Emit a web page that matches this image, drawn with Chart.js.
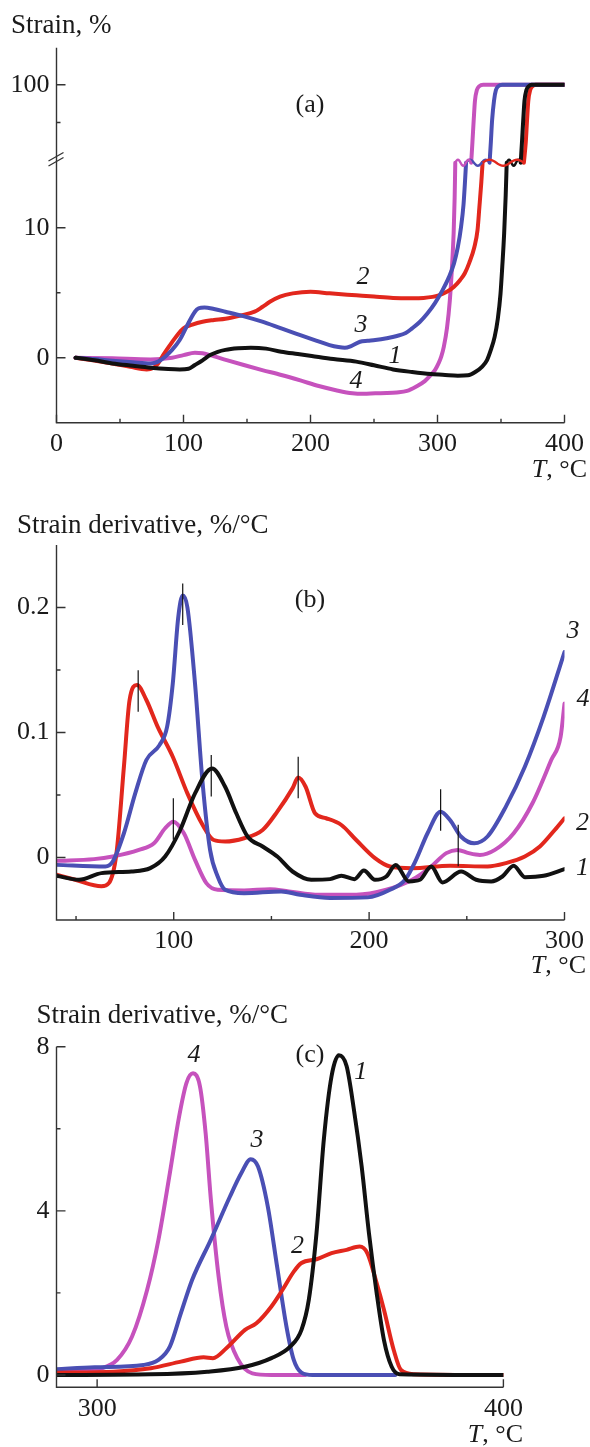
<!DOCTYPE html>
<html>
<head>
<meta charset="utf-8">
<script src="https://cdn.jsdelivr.net/npm/chart.js@4.4.1/dist/chart.umd.min.js"></script>
<style>
  body { margin: 0; background: #fff; width: 590px; height: 1447px; position: relative; overflow: hidden; }
  canvas { position: absolute; left: 0; }
</style>
</head>
<body>
<canvas id="chartA" width="590" height="485" style="top:0"></canvas>
<canvas id="chartB" width="590" height="505" style="top:485px"></canvas>
<canvas id="chartC" width="590" height="457" style="top:990px"></canvas>
<script>
// ---- panel (a): strain, % (upper part after the axis break is 15..100 %)
const a1T = [15, 30, 44, 60, 74, 88, 97, 104, 109, 115, 121, 127, 133, 143, 153, 165, 177, 190, 201, 218, 236, 250, 265, 280, 295, 306, 316, 324, 330, 335, 339, 342, 345, 347.5, 349.6, 351, 352.5, 353.7, 354.5, 360, 365.5, 366.5, 367.5, 368.5, 370, 372, 374, 400];
const a1V = [0, -0.2, -0.44, -0.62, -0.77, -0.87, -0.9, -0.85, -0.56, -0.2, 0.2, 0.45, 0.6, 0.72, 0.77, 0.7, 0.46, 0.28, 0.13, -0.1, -0.3, -0.58, -0.9, -1.1, -1.26, -1.33, -1.38, -1.35, -1.08, -0.7, -0.18, 0.6, 1.6, 3.0, 4.9, 7.0, 9.6, 12.5, 15, null, 15, 35, 60, 82, 94, 98.5, 100, 100];
const a2T = [15, 30, 44, 58, 71, 76, 80, 84, 88.5, 94, 100, 107, 115, 124, 133, 145, 156, 162, 168, 176, 186, 200, 215, 236, 250, 265, 280, 289, 296, 301, 307, 313, 318, 321.5, 325, 329, 331.5, 333, 334.5, 335.5, 352, 368, 369.5, 370.5, 371.5, 373, 375, 377, 400];
const a2V = [0, -0.22, -0.44, -0.7, -0.9, -0.8, -0.44, 0.2, 0.85, 1.6, 2.26, 2.55, 2.77, 2.9, 3.0, 3.25, 3.54, 3.9, 4.3, 4.7, 4.95, 5.08, 4.95, 4.8, 4.7, 4.6, 4.58, 4.6, 4.68, 4.8, 5.05, 5.46, 6.0, 6.5, 7.3, 8.5, 9.8, 11.6, 13.5, 15, null, 15, 35, 60, 82, 94, 98.5, 100, 100];
const a3T = [15, 30, 44, 60, 74, 80, 85.5, 91, 97, 103, 109, 112, 116.5, 124, 133, 147, 162, 177, 192, 205, 215, 222, 227, 232, 239, 245, 251, 260, 268, 275, 280, 286, 292, 298, 304, 309, 313, 316, 318.6, 320.5, 321.5, 322.5, 332, 341, 342, 343, 344.5, 346, 348, 351, 400];
const a3V = [0, -0.1, -0.23, -0.35, -0.44, -0.3, 0.08, 0.6, 1.36, 2.5, 3.54, 3.8, 3.87, 3.75, 3.54, 3.2, 2.77, 2.25, 1.74, 1.3, 0.97, 0.82, 0.77, 0.9, 1.23, 1.3, 1.36, 1.5, 1.67, 1.9, 2.26, 2.75, 3.4, 4.2, 5.2, 6.2, 7.26, 8.5, 10.1, 11.8, 13.3, 15, null, 15, 35, 60, 82, 94, 98.5, 100, 100];
const a4T = [15, 44, 74, 91, 100, 109, 115, 121, 134, 147.5, 162, 177, 192, 206.5, 220, 233, 242, 251, 260, 268, 276, 283, 290, 295, 298, 301, 303, 305, 307.5, 309.7, 311.3, 312.7, 313.5, 314, 320, 326.5, 327.5, 328.5, 329.5, 331, 333, 336, 400];
const a4V = [0, -0.05, -0.13, 0, 0.2, 0.38, 0.35, 0.2, -0.18, -0.56, -0.95, -1.33, -1.75, -2.18, -2.5, -2.74, -2.78, -2.74, -2.72, -2.67, -2.55, -2.23, -1.8, -1.3, -0.95, -0.4, 0.1, 0.85, 2.3, 4.4, 6.8, 9.56, 12.3, 15, null, 15, 35, 60, 82, 94, 98.5, 100, 100];
const aTicksX = [0, 100, 200, 300, 400];
const aTicksY = [0, 10, 100];

// ---- panel (b): strain derivative, %/°C, 40..300 °C
const b1T = [40, 51.5, 63, 78.4, 88, 95.6, 103.3, 110.9, 119.6, 126.3, 132, 137.8, 145.5, 153, 160.8, 170.4, 180, 185.8, 192.5, 197.3, 203, 208.8, 213.6, 220.3, 226, 231.8, 237.5, 247.1, 254.8, 262.5, 268.2, 274, 279.7, 289.3, 300];
const b1V = [-0.0146, -0.0178, -0.0125, -0.0112, -0.0085, 0.0008, 0.022, 0.0513, 0.0713, 0.0566, 0.0354, 0.0168, 0.0088, 0.0008, -0.0112, -0.0178, -0.0173, -0.0146, -0.0173, -0.0104, -0.0178, -0.0152, -0.0059, -0.0191, -0.0178, -0.0072, -0.0199, -0.0112, -0.0178, -0.0191, -0.0152, -0.0066, -0.0157, -0.0146, -0.0093];
const b2T = [40, 49.6, 63, 66.8, 70.7, 74.5, 77.4, 81.2, 86, 91.8, 99.5, 107, 114.8, 120.5, 126.3, 136, 145.5, 153, 160.8, 163.7, 167.5, 172.3, 178, 185.8, 193.4, 203, 210.7, 222, 241.4, 260.6, 270, 279.7, 287.4, 295, 300];
const b2V = [-0.0138, -0.0178, -0.023, -0.0205, 0.0035, 0.0726, 0.126, 0.138, 0.126, 0.1045, 0.0806, 0.0513, 0.026, 0.014, 0.0128, 0.0154, 0.022, 0.0367, 0.0553, 0.064, 0.0566, 0.0354, 0.0314, 0.026, 0.014, -0.0005, -0.0072, -0.0085, -0.0066, -0.0072, -0.0045, 0.0008, 0.0088, 0.022, 0.0314];
const b3T = [40, 65, 68.8, 74.5, 80.3, 86, 92.7, 96.6, 99.5, 102.3, 104.6, 107, 110.9, 114.8, 118.6, 122.5, 126.3, 136, 155, 164.7, 180, 199.2, 210.7, 218.4, 224, 229.9, 236.6, 241.4, 247, 253.8, 260.6, 270, 279.7, 289.3, 300];
const b3V = [-0.0059, -0.0072, -0.0032, 0.0194, 0.0513, 0.078, 0.0899, 0.1045, 0.139, 0.192, 0.2096, 0.2, 0.139, 0.0593, 0.0061, -0.0152, -0.0258, -0.0285, -0.0271, -0.0298, -0.0324, -0.0319, -0.0258, -0.0178, -0.0019, 0.0194, 0.0367, 0.03, 0.0168, 0.0114, 0.0168, 0.0407, 0.0726, 0.1125, 0.1644];
const b4T = [40, 59.2, 68.8, 82.2, 89.9, 95.6, 99.8, 105.2, 110.9, 116.7, 122.5, 136, 149.3, 158.9, 174.3, 193.4, 208.8, 222, 231.8, 239.5, 245.2, 251, 256.7, 264.4, 274, 283.6, 293.2, 298, 300];
const b4V = [-0.0027, -0.0013, 0.0008, 0.0061, 0.0114, 0.0234, 0.0287, 0.0194, -0.0019, -0.0205, -0.0258, -0.0263, -0.0253, -0.0271, -0.0298, -0.0298, -0.0258, -0.0178, -0.0072, 0.0035, 0.0061, 0.0035, 0.0021, 0.0061, 0.0194, 0.0434, 0.078, 0.0965, 0.1231];
// peak marks (thin vertical bars) in panel (b)
const bPeakT = [81.8, 104.6, 99.8, 119.2, 163.7, 236.6, 245.6];
const bPeakV = [0.1332, 0.2027, 0.0309, 0.0654, 0.0641, 0.038, 0.0096];
const bTicksX = [100, 200, 300];
const bTicksY = [0, 0.1, 0.2];

// ---- panel (c): strain derivative, %/°C, 290..400 °C
const c1T = [290, 313.2, 327.1, 336.4, 342.9, 347.5, 350.3, 352.1, 354, 355.8, 357.7, 359.5, 361.4, 363.2, 365.1, 366.9, 368.8, 370.6, 372.5, 374.4, 400];
const c1V = [0, 0.016, 0.08, 0.2, 0.41, 0.69, 1.1, 1.83, 3.46, 5.74, 7.28, 7.79, 7.53, 6.47, 5.09, 3.46, 2.0, 0.85, 0.2, 0.02, 0];
const c2T = [290, 304, 313.2, 320.6, 326.2, 328.5, 331.8, 336.4, 339.2, 342.9, 345.6, 348.4, 350.3, 354, 357.7, 361.4, 364.6, 366.5, 368.8, 370.6, 373, 374.8, 378, 400];
const c2V = [0.057, 0.08, 0.163, 0.325, 0.43, 0.41, 0.65, 1.1, 1.26, 1.67, 2.07, 2.52, 2.73, 2.82, 2.97, 3.05, 3.13, 2.97, 2.24, 1.59, 0.61, 0.12, 0.02, 0];
const c3T = [290, 299.4, 311.4, 315.1, 317.9, 320.6, 323.4, 328, 332.7, 335.5, 337.8, 339.6, 342, 344.3, 346.6, 348.4, 350.3, 353, 373.4];
const c3V = [0.138, 0.187, 0.244, 0.366, 0.69, 1.5, 2.32, 3.3, 4.35, 4.92, 5.26, 5.08, 4.11, 2.64, 1.18, 0.366, 0.057, 0, 0];
const c4T = [290, 296.6, 301.2, 304.9, 308.6, 312.3, 315.1, 317.9, 320.2, 322, 323.6, 325.3, 326.7, 328, 329.9, 331.8, 334.5, 338.2, 342.9, 351.2];
const c4V = [0.106, 0.106, 0.163, 0.366, 0.936, 2.07, 3.3, 4.92, 6.31, 7.12, 7.35, 7.04, 5.9, 4.27, 2.4, 1.18, 0.41, 0.04, 0, 0];
const cTicksX = [300, 400];
const cTicksY = [0, 4, 8];

const COLORS = { 1: '#111111', 2: '#e2271d', 3: '#4a4fb4', 4: '#c652bd' };
const SERIF = '"Liberation Serif", "Times New Roman", serif';
const AXIS = '#333333';

// broken axis of panel (a): 0..15 linear, then 15..100 squeezed above the break
const BREAK_V = 15, BREAK_D = 15.2, TOP_D = 21;
function strainToAxis(v) {
  if (v === null) return null;
  return v <= BREAK_V ? v : BREAK_D + (v - BREAK_V) * (TOP_D - BREAK_D) / (100 - BREAK_V);
}

function pts(T, V, f) {
  return T.map((t, i) => ({ x: t, y: f ? f(V[i]) : V[i] }));
}

function line(n, data) {
  return {
    label: String(n), data,
    borderColor: COLORS[n], borderWidth: 4,
    pointRadius: 0, spanGaps: false,
    cubicInterpolationMode: 'monotone',
    borderCapStyle: 'round', borderJoinStyle: 'round'
  };
}

function drawText(ctx, s, x, y, size, opt) {
  opt = opt || {};
  ctx.font = (opt.italic ? 'italic ' : '') + size + 'px ' + SERIF;
  ctx.fillStyle = opt.color || '#1a1a1a';
  ctx.textAlign = opt.align || 'left';
  ctx.textBaseline = opt.baseline || 'alphabetic';
  ctx.fillText(s, x, y);
}

function drawTUnit(ctx, right, base) {
  ctx.font = '26px ' + SERIF;
  const rest = ', \u00b0C';
  const w = ctx.measureText(rest).width;
  drawText(ctx, rest, right - w, base, 26);
  drawText(ctx, 'T', right - w, base, 26, { italic: true, align: 'right' });
}

function decor(cfg) {
  return {
    id: 'decor',
    afterDraw(chart) {
      const { ctx, chartArea: ca, scales: { x, y } } = chart;
      ctx.save();
      ctx.strokeStyle = AXIS;
      ctx.lineWidth = 1.4;
      ctx.beginPath();
      ctx.moveTo(ca.left, ca.top); ctx.lineTo(ca.left, ca.bottom); ctx.lineTo(ca.right, ca.bottom);
      ctx.stroke();
      ctx.beginPath();
      cfg.ticksX.forEach(v => { const p = x.getPixelForValue(v); ctx.moveTo(p, ca.bottom); ctx.lineTo(p, ca.bottom - 8); });
      cfg.minorX.forEach(v => { const p = x.getPixelForValue(v); ctx.moveTo(p, ca.bottom); ctx.lineTo(p, ca.bottom - 4); });
      cfg.ticksY.forEach(v => { const p = y.getPixelForValue(v); ctx.moveTo(ca.left, p); ctx.lineTo(ca.left + 9, p); });
      cfg.minorY.forEach(v => { const p = y.getPixelForValue(v); ctx.moveTo(ca.left, p); ctx.lineTo(ca.left + 4, p); });
      ctx.stroke();
      if (cfg.extra) cfg.extra(chart, ctx);
      drawText(ctx, cfg.title, cfg.titleX, cfg.titleY, 27);
      drawText(ctx, cfg.letter, 310, cfg.letterY, 26, { align: 'center' });
      drawTUnit(ctx, cfg.unitRight, cfg.unitY);
      cfg.labels.forEach(l => drawText(ctx, l[0], l[1], l[2], 26, { italic: true, align: 'center', baseline: 'middle' }));
      ctx.restore();
    }
  };
}

function makeChart(id, datasets, sc, cfg) {
  const cv = document.getElementById(id);
  return new Chart(cv, {
    type: 'line',
    data: { datasets },
    options: {
      responsive: false, animation: false,
      layout: { padding: { left: 0, top: sc.top, right: 590 - sc.right, bottom: 0 } },
      plugins: { legend: { display: false }, tooltip: { enabled: false } },
      scales: {
        x: {
          type: 'linear', min: sc.xMin, max: sc.xMax,
          grid: { display: false, drawTicks: false }, border: { display: false },
          afterFit: s => { s.height = cv.height - sc.bottom; },
          afterBuildTicks: s => { s.ticks = cfg.ticksX.map(v => ({ value: v })); },
          ticks: { padding: 6, color: '#1a1a1a', font: { family: SERIF, size: 26 }, maxRotation: 0, autoSkip: false,
                   callback: v => String(v) }
        },
        y: {
          type: 'linear', min: sc.yMin, max: sc.yMax,
          grid: { display: false, drawTicks: false }, border: { display: false },
          afterFit: s => { s.width = 56.5; },
          afterBuildTicks: s => { s.ticks = cfg.ticksY.map(v => ({ value: v })); },
          ticks: { padding: 7, color: '#1a1a1a', font: { family: SERIF, size: 26 }, autoSkip: false,
                   callback: cfg.yLabel || (v => String(v)) }
        }
      }
    },
    plugins: [decor(cfg)]
  });
}

// ---- (a)
const aAxisTicks = aTicksY.map(strainToAxis);
makeChart('chartA', [
  line(1, pts(a1T, a1V, strainToAxis)),
  line(3, pts(a3T, a3V, strainToAxis)),
  line(2, pts(a2T, a2V, strainToAxis)),
  line(4, pts(a4T, a4V, strainToAxis))
], { top: 47.7, bottom: 422.7, right: 567, xMin: 0, xMax: 400, yMin: -5, yMax: 23.85 }, {
  ticksX: aTicksX, minorX: [50, 150, 250, 350],
  ticksY: aAxisTicks, minorY: [5, strainToAxis(57.5)],
  yLabel: (v, i) => String(aTicksY[i]),
  title: 'Strain, %', titleX: 11, titleY: 33,
  letter: '(a)', letterY: 112,
  unitRight: 587, unitY: 477,
  labels: [['2', 363, 277], ['3', 361, 325], ['1', 395, 356], ['4', 356, 381]],
  extra(chart, ctx) {
    const ca = chart.chartArea;
    // break marks on the y axis
    ctx.strokeStyle = AXIS; ctx.lineWidth = 1.3;
    ctx.beginPath();
    ctx.moveTo(ca.left - 8, 166); ctx.lineTo(ca.left + 7, 157.5);
    ctx.moveTo(ca.left - 8, 161); ctx.lineTo(ca.left + 7, 152.5);
    ctx.stroke();
    // wavy joints where each curve crosses the break
    chart.data.datasets.forEach((ds, di) => {
      const meta = chart.getDatasetMeta(di);
      const k = ds.data.findIndex(p => p.y === null);
      if (k < 1) return;
      const p0 = meta.data[k - 1], p1 = meta.data[k + 1];
      ctx.strokeStyle = ds.borderColor; ctx.lineWidth = 2.4;
      ctx.beginPath();
      for (let s = 0; s <= 30; s++) {
        const t = s / 30;
        const px = p0.x + (p1.x - p0.x) * t;
        const py = p0.y + (p1.y - p0.y) * t - 3 * Math.sin(t * Math.PI * 3);
        if (s === 0) ctx.moveTo(px, py); else ctx.lineTo(px, py);
      }
      ctx.stroke();
    });
  }
});

// ---- (b)
makeChart('chartB', [
  line(1, pts(b1T, b1V)),
  line(3, pts(b3T, b3V)),
  line(2, pts(b2T, b2V)),
  line(4, pts(b4T, b4V))
], { top: 60, bottom: 435, right: 566.6, xMin: 40, xMax: 300, yMin: -0.05, yMax: 0.25 }, {
  ticksX: bTicksX, minorX: [50, 150, 250],
  ticksY: bTicksY, minorY: [0.05, 0.15],
  yLabel: v => (v === 0 ? '0' : String(v)),
  title: 'Strain derivative, %/\u00b0C', titleX: 17, titleY: 47.5,
  letter: '(b)', letterY: 121.5,
  unitRight: 586, unitY: 488,
  labels: [['3', 573, 145.7], ['4', 583, 214.3], ['2', 582.5, 337.7], ['1', 582.5, 383.3]],
  extra(chart, ctx) {
    const { x, y } = chart.scales;
    ctx.strokeStyle = '#111'; ctx.lineWidth = 1.2;
    ctx.beginPath();
    bPeakT.forEach((t, i) => {
      const px = x.getPixelForValue(t);
      ctx.moveTo(px, y.getPixelForValue(bPeakV[i] + 0.0166));
      ctx.lineTo(px, y.getPixelForValue(bPeakV[i] - 0.0166));
    });
    ctx.stroke();
  }
});

// ---- (c)
makeChart('chartC', [
  line(1, pts(c1T, c1V)),
  line(2, pts(c2T, c2V)),
  line(3, pts(c3T, c3V)),
  line(4, pts(c4T, c4V))
], { top: 56.7, bottom: 397.3, right: 503.4, xMin: 290, xMax: 400, yMin: -0.3, yMax: 8 }, {
  ticksX: cTicksX, minorX: [],
  ticksY: cTicksY, minorY: [2, 6],
  title: 'Strain derivative, %/\u00b0C', titleX: 36.5, titleY: 32.7,
  letter: '(c)', letterY: 71.7,
  unitRight: 523, unitY: 451.7,
  labels: [['4', 194, 65], ['3', 257, 150], ['2', 297.4, 256], ['1', 360.7, 81.7]]
});
</script>
</body>
</html>
